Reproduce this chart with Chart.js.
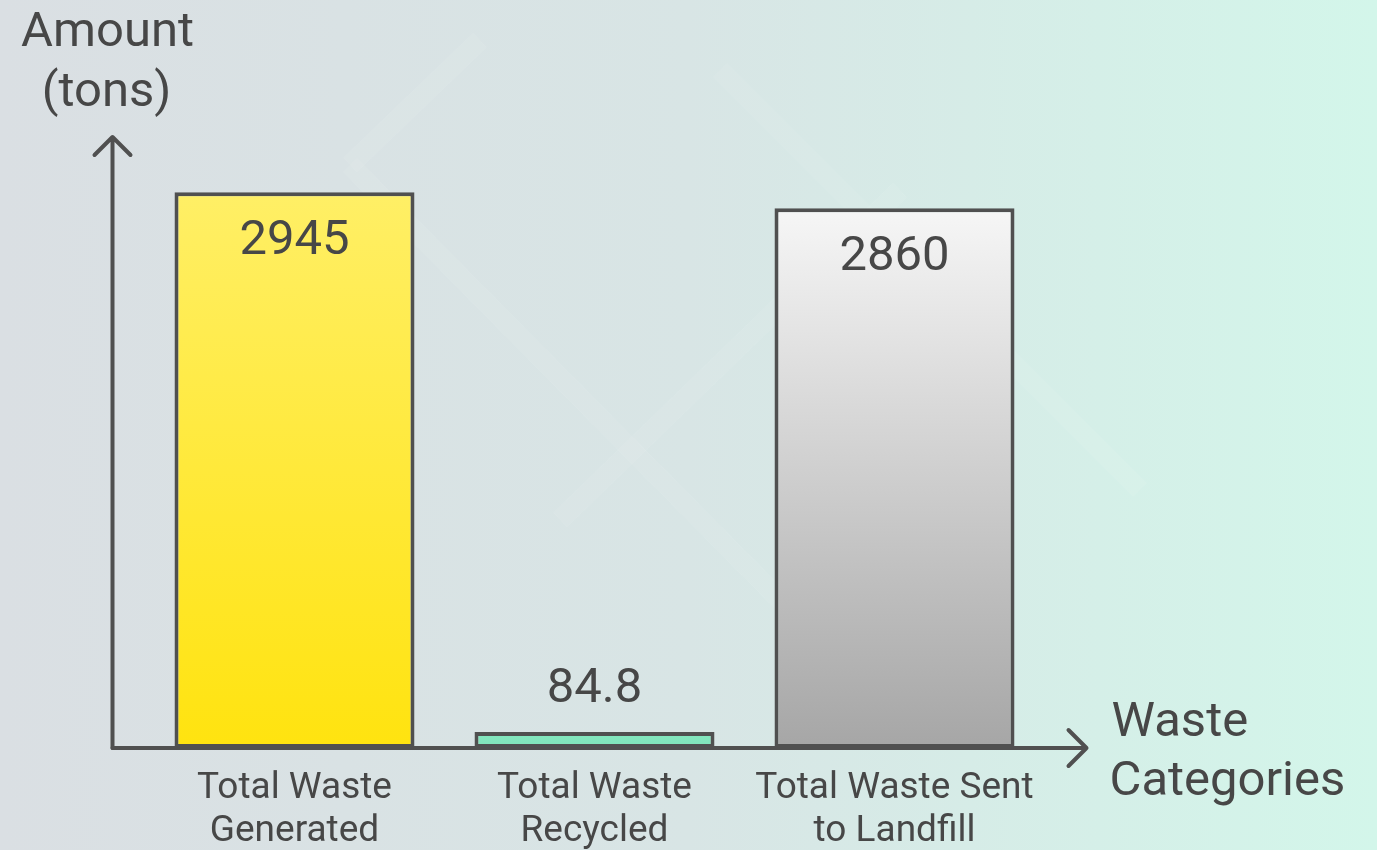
<!DOCTYPE html>
<html>
<head>
<meta charset="utf-8">
<title>Waste Amounts</title>
<script src="https://cdn.jsdelivr.net/npm/chart.js"></script>
<style>
  html, body { margin: 0; padding: 0; background: #d9e3e3; }
  #wrap { width: 1377px; height: 850px; }
</style>
</head>
<body>
<div id="wrap"><canvas id="wasteChart" width="1377" height="850"></canvas></div>
<script>
// data
const categories = [
    ["Total Waste", "Generated"],
    ["Total Waste", "Recycled"],
    ["Total Waste Sent", "to Landfill"]
];
const amounts = [2945, 84.8, 2860];
const yAxisTitle = ["Amount", "(tons)"];
const xAxisTitle = ["Waste", "Categories"];
const yMax = 3200;

// bar fills, top colour -> bottom colour
const barFills = [
    ["#ffef66", "#ffe30f"],
    ["#84e7bf", "#80e4ba"],
    ["#f6f6f6", "#a6a6a6"]
];
const inkColor = "#474747";
const lineColor = "#505050";

Chart.defaults.font.family = "Roboto, 'Open Sans', sans-serif";

function barGradient(c) {
    const chart = c.chart;
    const i = c.dataIndex;
    if (i === undefined) return barFills[0][0];
    if (!chart.chartArea) return barFills[i][0];
    const y = chart.scales.y;
    const top = y.getPixelForValue(amounts[i]);
    const base = y.getPixelForValue(0);
    const g = chart.ctx.createLinearGradient(0, top, 0, base);
    g.addColorStop(0, barFills[i][0]);
    g.addColorStop(1, barFills[i][1]);
    return g;
}

// soft background with faint diagonal bands
const backdrop = {
    id: "backdrop",
    beforeDraw(chart) {
        const ctx = chart.ctx;
        const w = chart.width, h = chart.height;
        ctx.save();
        const g = ctx.createLinearGradient(0, 0, w, 0);
        g.addColorStop(0, "#dadfe3");
        g.addColorStop(0.5, "#d8e5e5");
        g.addColorStop(1, "#d3f6ea");
        ctx.fillStyle = g;
        ctx.fillRect(0, 0, w, h);

        ctx.strokeStyle = "rgba(255,255,255,0.07)";
        ctx.lineWidth = 20;
        const bands = [
            [350, 165, 790, 610],
            [720, 70, 1140, 490],
            [350, 165, 480, 40],
            [560, 520, 900, 190]
        ];
        bands.forEach(b => {
            ctx.beginPath();
            ctx.moveTo(b[0], b[1]);
            ctx.lineTo(b[2], b[3]);
            ctx.stroke();
        });
        ctx.restore();
    }
};

// axis lines with arrow heads and axis titles
const arrowAxes = {
    id: "arrowAxes",
    beforeDatasetsDraw(chart) {
        const ctx = chart.ctx;
        const area = chart.chartArea;
        const ax = area.left - 32;
        const ay = area.bottom;
        const yTop = area.top - 7;
        const xEnd = area.right + 42;
        ctx.save();
        ctx.strokeStyle = lineColor;
        ctx.lineWidth = 4;
        ctx.lineCap = "round";
        ctx.lineJoin = "round";

        ctx.beginPath();
        ctx.moveTo(ax, ay);
        ctx.lineTo(ax, yTop);
        ctx.moveTo(ax - 18, yTop + 18);
        ctx.lineTo(ax, yTop);
        ctx.lineTo(ax + 18, yTop + 18);
        ctx.stroke();

        ctx.beginPath();
        ctx.moveTo(ax, ay);
        ctx.lineTo(xEnd, ay);
        ctx.moveTo(xEnd - 18, ay - 18);
        ctx.lineTo(xEnd, ay);
        ctx.lineTo(xEnd - 18, ay + 18);
        ctx.stroke();

        ctx.fillStyle = inkColor;
        ctx.font = "49px Roboto, sans-serif";
        ctx.textBaseline = "alphabetic";
        ctx.textAlign = "center";
        ctx.fillText(yAxisTitle[0], ax - 5, 46);
        ctx.fillText(yAxisTitle[1], ax - 6, 106);

        ctx.textAlign = "left";
        ctx.fillText(xAxisTitle[0], xEnd + 25, ay - 12);
        ctx.fillText(xAxisTitle[1], xEnd + 23, ay + 47);
        ctx.restore();
    }
};

// value labels: inside tall bars, above short ones
const valueLabels = {
    id: "valueLabels",
    afterDatasetsDraw(chart) {
        const ctx = chart.ctx;
        const meta = chart.getDatasetMeta(0);
        ctx.save();
        ctx.fillStyle = inkColor;
        ctx.font = "49px Roboto, sans-serif";
        ctx.textAlign = "center";
        ctx.textBaseline = "middle";
        meta.data.forEach((bar, i) => {
            const v = amounts[i];
            const y = v > yMax * 0.1 ? bar.y + 50 : bar.y - 42;
            ctx.fillText(String(v), bar.x, y);
        });
        ctx.restore();
    }
};

new Chart(document.getElementById("wasteChart"), {
    type: "bar",
    data: {
        labels: categories,
        datasets: [{
            data: amounts,
            backgroundColor: barGradient,
            borderColor: "#505050",
            borderWidth: 4,
            borderSkipped: false,
            barPercentage: 0.8,
            categoryPercentage: 1.0
        }]
    },
    options: {
        responsive: false,
        animation: false,
        layout: { padding: { top: 144, left: 144.5, right: 332.5, bottom: 0 } },
        plugins: {
            legend: { display: false },
            tooltip: { enabled: false }
        },
        scales: {
            x: {
                grid: { display: false },
                border: { display: false },
                ticks: {
                    color: inkColor,
                    font: { size: 37, lineHeight: 1.17 },
                    padding: 11,
                    maxRotation: 0,
                    autoSkip: false
                },
                afterFit(scale) { scale.height = 102; }
            },
            y: {
                display: false,
                min: 0,
                max: yMax
            }
        }
    },
    plugins: [backdrop, arrowAxes, valueLabels]
});
</script>
</body>
</html>
